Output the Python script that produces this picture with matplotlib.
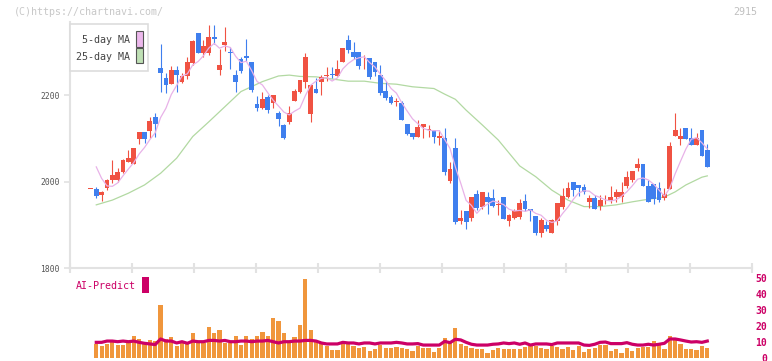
import matplotlib.pyplot as plt
import matplotlib.patches as mpatches
import matplotlib.transforms as mtransforms
import numpy as np

plt.switch_backend('agg')

#%% ====================================
#   Data
#   ====================================
OPEN = [1983, 1983, 1968, 1986, 2004, 2004, 2021, 2046, 2041, 2098,
        2114, 2117, 2149, 2263, 2239, 2226, 2257, 2231, 2244, 2275,
        2343, 2296, 2298, 2333, 2258, 2316, 2299, 2246, 2283, 2290,
        2276, 2179, 2170, 2195, 2181, 2158, 2131, 2138, 2187, 2207,
        2231, 2155, 2214, 2229, 2244, 2249, 2245, 2277, 2327, 2299,
        2299, 2271, 2286, 2276, 2246, 2209, 2195, 2183, 2182, 2133,
        2113, 2104, 2125, 2119, 2119, 2101, 2101, 2002, 2078, 1909,
        1932, 1916, 1971, 1941, 1964, 1962, 1946, 1964, 1909, 1916,
        1919, 1955, 1936, 1920, 1882, 1900, 1882, 1909, 1940, 1964,
        1999, 1993, 1987, 1953, 1962, 1943, 1954, 1957, 1964, 1964,
        1990, 2004, 2031, 2041, 1990, 1994, 1985, 1962, 1983, 2105,
        2098, 2124, 2101, 2084, 2119, 2073]
HIGH = [1983, 1988, 1978, 2006, 2050, 2032, 2052, 2072, 2077, 2115,
        2115, 2148, 2158, 2317, 2252, 2268, 2268, 2252, 2289, 2328,
        2343, 2327, 2363, 2363, 2306, 2357, 2311, 2258, 2289, 2330,
        2276, 2198, 2206, 2200, 2200, 2162, 2134, 2174, 2215, 2235,
        2297, 2223, 2239, 2246, 2265, 2265, 2281, 2309, 2339, 2323,
        2299, 2293, 2286, 2276, 2269, 2232, 2200, 2192, 2186, 2133,
        2113, 2142, 2133, 2131, 2119, 2119, 2124, 2044, 2101, 1934,
        1932, 1964, 1980, 1976, 1976, 1983, 1957, 1964, 1926, 1936,
        1960, 1971, 1936, 1920, 1916, 1909, 1914, 1950, 1985, 2000,
        1999, 1993, 1994, 1969, 1969, 1969, 1969, 1990, 1983, 1999,
        2024, 2024, 2054, 2041, 2004, 1994, 1999, 1985, 2091, 2158,
        2124, 2124, 2124, 2112, 2119, 2087]
LOW = [1983, 1961, 1956, 1981, 1996, 2000, 2019, 2044, 2041, 2086,
       2088, 2100, 2104, 2208, 2205, 2225, 2208, 2227, 2237, 2269,
       2296, 2289, 2292, 2317, 2246, 2302, 2260, 2208, 2252, 2279,
       2208, 2164, 2167, 2159, 2169, 2129, 2098, 2134, 2185, 2205,
       2217, 2138, 2205, 2199, 2233, 2239, 2245, 2277, 2298, 2283,
       2261, 2261, 2236, 2245, 2201, 2189, 2180, 2175, 2142, 2108,
       2099, 2104, 2101, 2104, 2088, 2085, 2016, 1997, 1902, 1902,
       1891, 1909, 1933, 1937, 1926, 1940, 1923, 1914, 1897, 1913,
       1914, 1932, 1909, 1877, 1872, 1886, 1882, 1899, 1937, 1961,
       1967, 1967, 1970, 1939, 1936, 1934, 1948, 1950, 1953, 1953,
       1985, 1999, 2024, 1990, 1953, 1949, 1953, 1957, 1983, 2105,
       2084, 2098, 2084, 2084, 2059, 2034]
CLOSE = [1983, 1967, 1976, 2003, 2015, 2023, 2050, 2054, 2077, 2114,
         2098, 2141, 2134, 2252, 2222, 2257, 2246, 2244, 2276, 2325,
         2296, 2313, 2333, 2330, 2269, 2322, 2296, 2231, 2256, 2286,
         2212, 2171, 2191, 2166, 2200, 2145, 2101, 2158, 2209, 2235,
         2288, 2223, 2205, 2242, 2245, 2246, 2260, 2309, 2304, 2289,
         2268, 2272, 2242, 2253, 2205, 2194, 2182, 2187, 2142, 2110,
         2104, 2125, 2133, 2121, 2104, 2105, 2023, 2029, 1907, 1916,
         1907, 1964, 1938, 1976, 1953, 1943, 1947, 1914, 1923, 1932,
         1950, 1936, 1931, 1882, 1911, 1891, 1911, 1950, 1967, 1985,
         1980, 1985, 1976, 1962, 1936, 1957, 1956, 1964, 1976, 1976,
         2010, 2024, 2041, 1990, 1953, 1960, 1957, 1971, 2082, 2119,
         2105, 2098, 2084, 2101, 2059, 2034]

# closes just before the window (needed for the first 5-day MA points)
PRE_CLOSE = [2109, 2090, 2020]

# 25-day MA (candle index, price)
MA25_IDX = [1, 4, 7, 10, 13, 16, 19, 22, 25, 28, 32, 35, 37, 39, 42, 45, 48, 51,
            54, 57, 60, 64, 66, 68, 70, 73, 76, 79, 80, 83, 86, 89, 92, 95, 98,
            101, 104, 107, 109, 111, 114, 115]
MA25_VAL = [1946, 1957, 1973, 1992, 2019, 2054, 2104, 2138, 2173, 2208, 2231,
            2244, 2246, 2243, 2242, 2237, 2232, 2232, 2227, 2225, 2219, 2215,
            2202, 2190, 2165, 2131, 2096, 2051, 2036, 2011, 1980, 1957, 1942,
            1942, 1946, 1953, 1959, 1964, 1976, 1992, 2010, 2013]

# volume (orange bars) and AI-Predict line, right-axis units
VOLUME = [np.nan,
          8.6, 7.3, 8.6, 10.2, 7.9, 7.9, 9.2, 13.6, 11.7, 9.2,
          11.1, 10.2, 33.0, 11.7, 13.0, 7.3, 9.2, 8.6, 15.6, 9.2,
          9.2, 19.2, 15.6, 17.3, 9.2, 9.2, 13.6, 7.9, 13.6, 11.7,
          13.6, 16.1, 13.6, 24.8, 22.9, 15.6, 10.4, 13.0, 20.4, 49.2,
          17.3, 11.1, 9.2, 7.3, 4.8, 4.8, 9.2, 8.6, 7.3, 6.1,
          6.7, 4.2, 5.5, 7.9, 6.1, 6.1, 6.7, 6.1, 5.5, 4.2,
          7.3, 6.0, 6.0, 3.6, 6.0, 12.3, 9.0, 18.6, 8.6, 7.3,
          6.0, 5.6, 5.6, 3.0, 4.8, 6.0, 5.6, 5.6, 5.6, 5.6,
          6.7, 7.3, 7.3, 6.0, 5.4, 7.3, 6.7, 5.6, 6.7, 4.8,
          7.3, 3.6, 5.6, 6.0, 7.9, 7.9, 4.4, 5.4, 3.0, 6.3,
          4.4, 6.0, 6.7, 6.7, 10.2, 7.9, 5.6, 13.6, 11.1, 8.6,
          5.6, 5.6, 4.8, 7.3, 6.0]
AI_PREDICT = [np.nan,
              9.6, 9.6, 10.4, 10.4, 10.0, 10.4, 10.0, 10.4, 9.6, 9.0,
              8.6, 8.2, 11.7, 10.4, 10.4, 9.2, 10.0, 9.0, 10.4, 10.0,
              10.0, 10.8, 10.8, 10.4, 10.8, 10.0, 10.0, 10.4, 10.4, 10.0,
              10.4, 10.4, 10.8, 10.0, 9.2, 10.0, 10.0, 10.4, 10.4, 10.8,
              10.8, 10.4, 9.2, 8.6, 8.6, 8.6, 9.6, 9.2, 9.2, 8.6,
              9.2, 9.2, 8.6, 9.2, 9.2, 9.2, 9.6, 9.2, 8.6, 8.6,
              8.8, 7.9, 7.9, 7.9, 7.9, 10.2, 9.4, 11.5, 11.1, 9.6,
              8.4, 7.9, 7.9, 7.9, 8.4, 8.6, 9.2, 8.8, 9.2, 8.4,
              9.2, 7.9, 8.6, 8.6, 8.6, 8.2, 9.2, 9.2, 9.2, 9.2,
              9.2, 7.9, 7.7, 8.4, 9.6, 9.8, 8.8, 8.8, 8.8, 9.4,
              8.4, 7.9, 7.9, 8.4, 7.9, 8.4, 9.0, 11.7, 11.7, 11.1,
              10.4, 9.8, 10.0, 9.6, 10.4]

DATE_LABELS = ['2/18', '3/5', '3/19', '4/3', '4/17', '5/7', '5/21', '6/4', '6/18', '7/2', '7/16']
DATE_IDX = [15, 25, 35, 45, 55, 65, 75, 85, 95, 105, 115]

AI_TICKS = [0, 10, 20, 30, 40, 50]
PRICE_TICKS = [1800, 2000, 2200]


#%% ====================================
#   Settings
#   ====================================
W, H = 772, 361
MONO = 'DejaVu Sans Mono'
RED = '#f05242'
BLUE = '#3f7fee'
MAGENTA = '#cc0066'
GRID_C = '#e2e2e2'

X_LEFT, X_RIGHT = -3.90, 123.34   # candle-index range of the plot area


def fx(px):
    return px / W


def fy(py):
    return 1 - py / H


#%% ====================================
#   Figure
#   ====================================
fig = plt.figure(figsize=(W / 100, H / 100), dpi=100)
fig.patch.set_facecolor('white')

# ---------------- price panel ----------------
ax1 = fig.add_axes([fx(70), fy(268), fx(752) - fx(70), fy(22) - fy(268)])

o = np.array(OPEN, dtype=float)
h = np.array(HIGH, dtype=float)
l = np.array(LOW, dtype=float)
c = np.array(CLOSE, dtype=float)
idx = np.arange(len(c))
up = c >= o
cols = np.where(up, RED, BLUE)

# wicks
ax1.vlines(idx, l, h, colors=cols, linewidth=0.8, zorder=2)
# bodies
body_bot = np.minimum(o, c)
body_h = np.maximum(np.abs(c - o), 1.6)
ax1.bar(idx, body_h, bottom=body_bot, width=0.9, color=cols, linewidth=0, zorder=3)

# moving averages
ext = np.array(PRE_CLOSE + CLOSE, dtype=float)
ma5 = np.convolve(ext, np.ones(5) / 5, mode='valid')
ax1.plot(idx[1:], ma5, color='#e8b2e8', linewidth=0.9, zorder=4)
ax1.plot(MA25_IDX, MA25_VAL, color='#b2d9a2', linewidth=0.9, zorder=1)

ax1.set_xlim(X_LEFT, X_RIGHT)
ax1.set_ylim(1800, 2368.8)

for s in ['top', 'right']:
    ax1.spines[s].set_visible(False)
for s in ['left', 'bottom']:
    ax1.spines[s].set_color(GRID_C)
    ax1.spines[s].set_linewidth(1.5)

ax1.set_xticks(np.linspace(X_LEFT, X_RIGHT, 12))
ax1.set_xticklabels([])
ax1.tick_params(axis='x', direction='inout', length=7, width=1.5, color=GRID_C)
ax1.set_yticks(PRICE_TICKS)
ax1.set_yticklabels([str(v) for v in PRICE_TICKS], family=MONO, fontsize=5.8, color='#555555')
ax1.tick_params(axis='y', direction='out', length=4.5, width=1.2, color=GRID_C, pad=3)

# date labels between the panels
trans = mtransforms.blended_transform_factory(ax1.transData, ax1.transAxes)
for d, k in zip(DATE_LABELS, DATE_IDX):
    ax1.text(k, -15 / 246, d, transform=trans, ha='center', va='center',
             family=MONO, fontsize=5.8, color='#555555')

# ---------------- AI-Predict / volume panel ----------------
ax2 = fig.add_axes([fx(70), fy(357.7), fx(752) - fx(70), fy(277.7) - fy(357.7)])
ax2.bar(idx, VOLUME, width=0.78, color='#f0963c', linewidth=0, zorder=1)
ax2.plot(idx, AI_PREDICT, color=MAGENTA, linewidth=2.3, zorder=2)
ax2.set_xlim(X_LEFT, X_RIGHT)
ax2.set_ylim(0, 50)
for s in ax2.spines.values():
    s.set_visible(False)
ax2.set_xticks([])
ax2.yaxis.tick_right()
ax2.set_yticks(AI_TICKS)
ax2.set_yticklabels([str(v) for v in AI_TICKS], family=MONO, fontsize=7,
                    color=MAGENTA, fontweight='bold')
ax2.tick_params(axis='y', length=0, pad=10.8)
for lab in ax2.get_yticklabels():
    lab.set_horizontalalignment('right')

# ---------------- texts and legend ----------------
fig.text(fx(14), fy(12), '(C)https://chartnavi.com/', family=MONO, fontsize=7.2,
         color='#c8c8c8', va='center', ha='left')
fig.text(fx(757), fy(12), '2915', family=MONO, fontsize=7.2,
         color='#c0c0c0', va='center', ha='right')

fig.add_artist(mpatches.Rectangle((fx(70), fy(71.3)), fx(148.3) - fx(70), fy(24) - fy(71.3),
                                  transform=fig.transFigure, facecolor='white',
                                  edgecolor='#dddddd', linewidth=1.2, zorder=5))
fig.text(fx(129.5), fy(40), '5-day MA', family=MONO, fontsize=7.2, color='#444444',
         ha='right', va='center', zorder=6)
fig.text(fx(129.5), fy(57), '25-day MA', family=MONO, fontsize=7.2, color='#444444',
         ha='right', va='center', zorder=6)
fig.add_artist(mpatches.Rectangle((fx(136), fy(46.7)), fx(142.7) - fx(136), fy(31) - fy(46.7),
                                  transform=fig.transFigure, facecolor='#ecb8ec',
                                  edgecolor='#555555', linewidth=0.8, zorder=6))
fig.add_artist(mpatches.Rectangle((fx(136), fy(63.3)), fx(142.7) - fx(136), fy(48.3) - fy(63.3),
                                  transform=fig.transFigure, facecolor='#bfe0b5',
                                  edgecolor='#555555', linewidth=0.8, zorder=6))

fig.text(fx(76), fy(286), 'AI-Predict', family=MONO, fontsize=7.2, color=MAGENTA,
         ha='left', va='center')
fig.add_artist(mpatches.Rectangle((fx(142), fy(292.7)), fx(148.7) - fx(142), fy(276.7) - fy(292.7),
                                  transform=fig.transFigure, facecolor=MAGENTA,
                                  edgecolor='none'))

fig.savefig('out.png', dpi=100)
plt.close()
